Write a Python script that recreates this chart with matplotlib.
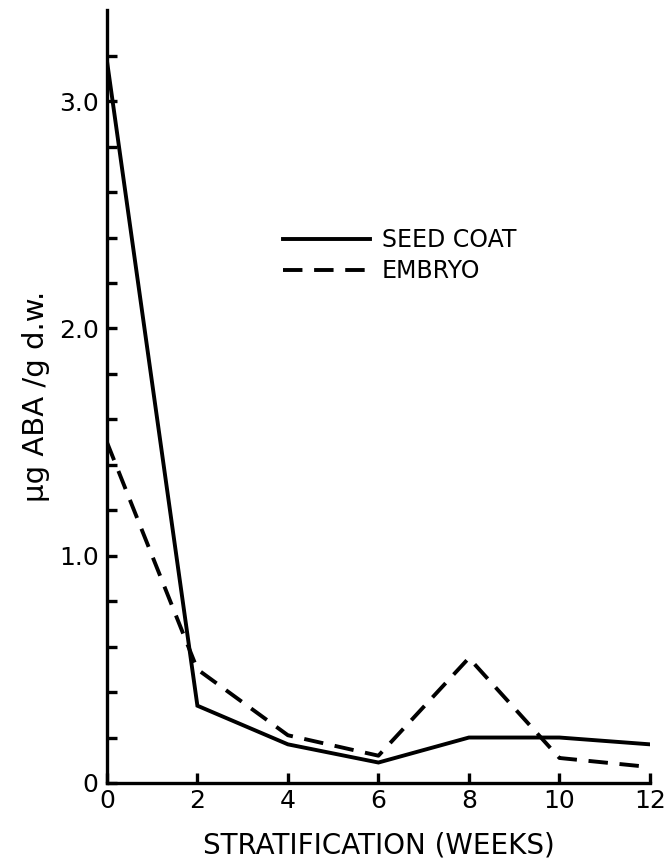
import matplotlib
matplotlib.use("Agg")
import matplotlib.pyplot as plt
from matplotlib.ticker import FixedLocator

weeks = [0, 2, 4, 6, 8, 10, 12]
seed_coat = [3.18, 0.34, 0.17, 0.09, 0.20, 0.20, 0.17]
embryo = [1.50, 0.50, 0.21, 0.12, 0.55, 0.11, 0.07]

y_ticks = [0, 1.0, 2.0, 3.0]
y_labels = ["0", "1.0", "2.0", "3.0"]
y_minor = [0.2, 0.4, 0.6, 0.8, 1.2, 1.4, 1.6, 1.8, 2.2, 2.4, 2.6, 2.8, 3.2]
x_ticks = [0, 2, 4, 6, 8, 10, 12]

plt.rcParams["font.family"] = "DejaVu Sans"

fig = plt.figure(figsize=(6.68, 8.59), dpi=100)
ax = fig.add_axes([0.160, 0.0885, 0.813, 0.8995])

ax.plot(weeks, seed_coat, color="black", lw=2.8, label="SEED COAT",
        solid_joinstyle="miter")
ax.plot(weeks, embryo, color="black", lw=2.8, dashes=(5, 3), label="EMBRYO")

ax.set_xlim(0, 12)
ax.set_ylim(0, 3.4)

for side in ("top", "right"):
    ax.spines[side].set_visible(False)
for side in ("left", "bottom"):
    ax.spines[side].set_linewidth(2.4)

ax.set_xticks(x_ticks)
ax.set_yticks(y_ticks)
ax.set_yticklabels(y_labels)
ax.yaxis.set_minor_locator(FixedLocator(y_minor))
ax.tick_params(direction="in", length=7, width=2.4, labelsize=18, pad=6)
ax.tick_params(which="minor", direction="in", length=7, width=2.4)
ax.tick_params(axis="x", pad=4)

ax.set_xlabel("STRATIFICATION (WEEKS)", fontsize=20, labelpad=14)
ax.set_ylabel("μg ABA /g d.w.", fontsize=21, labelpad=6)

ax.legend(loc="upper left", bbox_to_anchor=(0.324, 0.718), frameon=False,
          fontsize=17, handlelength=3.7, handletextpad=0.5, labelspacing=0.3,
          borderpad=0, borderaxespad=0)

fig.savefig("out.png", dpi=100, facecolor="white")
